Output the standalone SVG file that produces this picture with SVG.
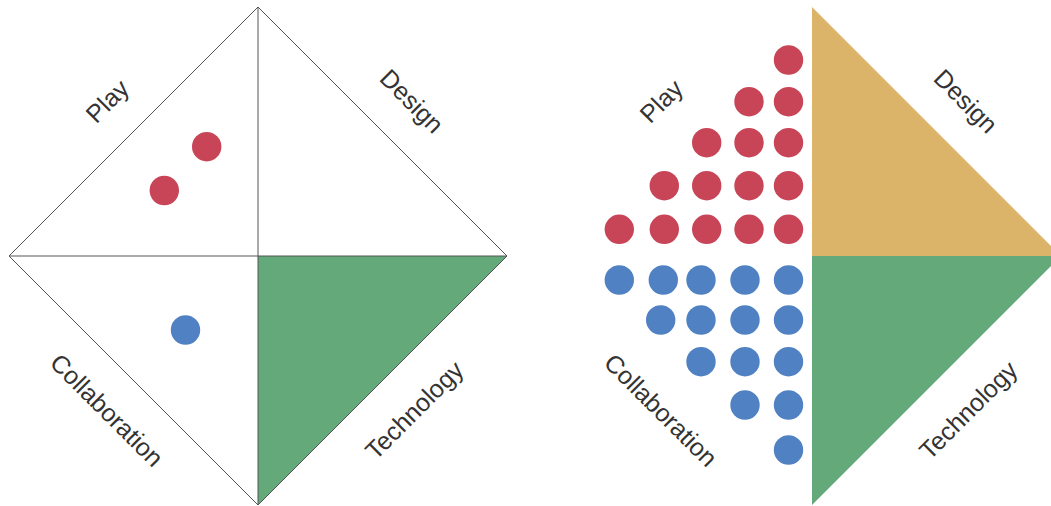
<svg xmlns="http://www.w3.org/2000/svg" width="1051" height="506" viewBox="0 0 1051 506">
<style>
.lbl{font-family:"Liberation Sans",Arial,sans-serif;font-size:25px;fill:#333;text-anchor:middle;dominant-baseline:central}
.ln{stroke:#555;stroke-width:1;fill:none}
.red{fill:#C84457}
.blue{fill:#5081C2}
.green{fill:#63A979}
.tan{fill:#DBB469}
</style>
<rect width="1051" height="506" fill="#fff"/>
<g id="left-diagram">
  <polygon class="green" points="258,256 507,256 258,505"/>
  <g id="left-lines">
    <polygon class="ln" points="258,7 507,256 258,505 9,256"/>
    <line class="ln" x1="9" y1="256" x2="507" y2="256"/>
    <line class="ln" x1="258" y1="7" x2="258" y2="505"/>
  </g>
  <g id="left-dots">
    <circle class="red" cx="206.7" cy="146.7" r="14.7"/>
    <circle class="red" cx="164.3" cy="190.5" r="14.7"/>
    <circle class="blue" cx="185.5" cy="330" r="14.7"/>
  </g>
  <text class="lbl" transform="translate(107,101) rotate(-45)">Play</text>
  <text class="lbl" transform="translate(412,101) rotate(45)">Design</text>
  <text class="lbl" transform="translate(107,410) rotate(45)">Collaboration</text>
  <text class="lbl" transform="translate(414,410) rotate(-45)">Technology</text>
</g>
<g id="right-diagram">
  <polygon class="tan" points="812,7 1061,256 812,256"/>
  <polygon class="green" points="812,256 1061,256 812,505"/>
  <g id="right-red">
    <circle class="red" cx="788.5" cy="60" r="14.7"/>
    <circle class="red" cx="749" cy="101.7" r="14.7"/>
    <circle class="red" cx="788.5" cy="101.7" r="14.7"/>
    <circle class="red" cx="706.7" cy="142.7" r="14.7"/>
    <circle class="red" cx="749" cy="142.7" r="14.7"/>
    <circle class="red" cx="788.5" cy="142.7" r="14.7"/>
    <circle class="red" cx="664.3" cy="185.7" r="14.7"/>
    <circle class="red" cx="706.7" cy="185.7" r="14.7"/>
    <circle class="red" cx="749" cy="185.7" r="14.7"/>
    <circle class="red" cx="788.5" cy="185.7" r="14.7"/>
    <circle class="red" cx="619.3" cy="229.3" r="14.7"/>
    <circle class="red" cx="664.3" cy="229.3" r="14.7"/>
    <circle class="red" cx="706.7" cy="229.3" r="14.7"/>
    <circle class="red" cx="749" cy="229.3" r="14.7"/>
    <circle class="red" cx="788.5" cy="229.3" r="14.7"/>
  </g>
  <g id="right-blue">
    <circle class="blue" cx="619.3" cy="280" r="14.7"/>
    <circle class="blue" cx="663.3" cy="280" r="14.7"/>
    <circle class="blue" cx="701" cy="280" r="14.7"/>
    <circle class="blue" cx="745" cy="280" r="14.7"/>
    <circle class="blue" cx="788.5" cy="280" r="14.7"/>
    <circle class="blue" cx="660.7" cy="320" r="14.7"/>
    <circle class="blue" cx="701" cy="320" r="14.7"/>
    <circle class="blue" cx="745" cy="320" r="14.7"/>
    <circle class="blue" cx="788.5" cy="320" r="14.7"/>
    <circle class="blue" cx="701" cy="361.7" r="14.7"/>
    <circle class="blue" cx="745" cy="361.7" r="14.7"/>
    <circle class="blue" cx="788.5" cy="361.7" r="14.7"/>
    <circle class="blue" cx="745" cy="405" r="14.7"/>
    <circle class="blue" cx="788.5" cy="405" r="14.7"/>
    <circle class="blue" cx="788.5" cy="450" r="14.7"/>
  </g>
  <text class="lbl" transform="translate(661,101) rotate(-45)">Play</text>
  <text class="lbl" transform="translate(966,101) rotate(45)">Design</text>
  <text class="lbl" transform="translate(661,410) rotate(45)">Collaboration</text>
  <text class="lbl" transform="translate(968,410) rotate(-45)">Technology</text>
</g>
</svg>
